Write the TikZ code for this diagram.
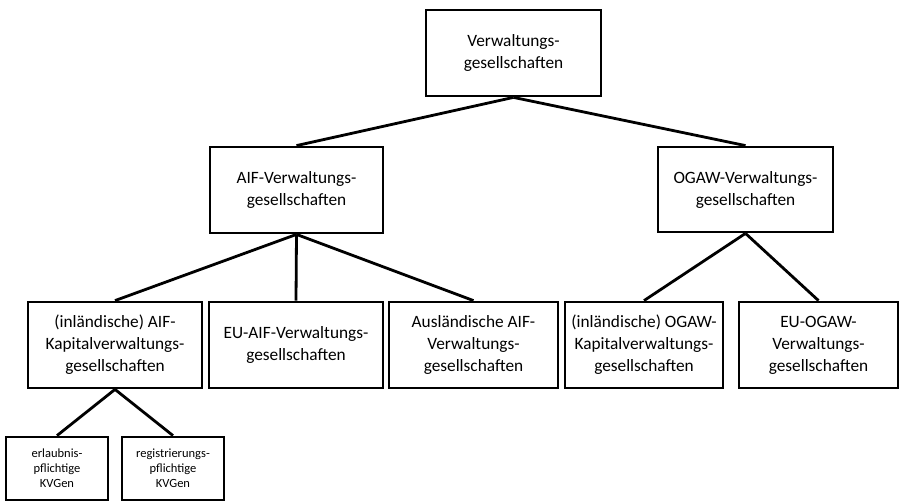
\documentclass[tikz,border=0pt]{standalone}
\usepackage{fontspec}
\setmainfont{Carlito}
\usetikzlibrary{shapes,arrows}
\tikzstyle{block} = [rectangle, draw, line width=2.8pt, text centered, align=center,
	inner sep=0pt, font=\fontsize{17.3}{22}\selectfont]
\tikzstyle{small} = [block, minimum width=102pt, minimum height=63pt,
	font=\fontsize{12.5}{15}\selectfont]
\tikzstyle{line} = [draw, line width=2.8pt]

\begin{document}
\begin{tikzpicture}[x=1pt, y=-1pt]
	\useasboundingbox (0,0) rectangle (922,502);
	% Place nodes
	\node [block, minimum width=175pt, minimum height=86pt] (vg) at (513.5,53) {Verwaltungs-\\gesellschaften};
	\node [block, minimum width=173pt, minimum height=86pt] (aif) at (296.5,190) {AIF-Verwaltungs-\\gesellschaften};
	\node [block, minimum width=175pt, minimum height=85pt] (ogaw) at (745.5,189.5) {OGAW-Verwaltungs-\\gesellschaften};
	\node [block, minimum width=174pt, minimum height=86pt] (aifkvg) at (115,345) {(inländische) AIF-\\Kapitalverwaltungs-\\gesellschaften};
	\node [block, minimum width=174pt, minimum height=86pt] (euaif) at (296,345) {EU-AIF-Verwaltungs-\\gesellschaften};
	\node [block, minimum width=169pt, minimum height=86pt] (auslaif) at (473.5,345) {Ausländische AIF-\\Verwaltungs-\\gesellschaften};
	\node [block, minimum width=158pt, minimum height=86pt] (ogawkvg) at (644,345) {(inländische) OGAW-\\Kapitalverwaltungs-\\gesellschaften};
	\node [block, minimum width=159pt, minimum height=86pt] (euogaw) at (818.5,345) {EU-OGAW-\\Verwaltungs-\\gesellschaften};
	\node [small] (erlaubnis) at (57,468.5) {erlaubnis-\\pflichtige\\KVGen};
	\node [small] (registrierung) at (173,468.5) {registrierungs-\\pflichtige\\KVGen};
	% Draw edges
	\path [line] (vg.south) -- (aif.north);
	\path [line] (vg.south) -- (ogaw.north);
	\path [line] (aif.south) -- (aifkvg.north);
	\path [line] (aif.south) -- (euaif.north);
	\path [line] (aif.south) -- (auslaif.north);
	\path [line] (ogaw.south) -- (ogawkvg.north);
	\path [line] (ogaw.south) -- (euogaw.north);
	\path [line] (aifkvg.south) -- (erlaubnis.north);
	\path [line] (aifkvg.south) -- (registrierung.north);
\end{tikzpicture}
\end{document}
